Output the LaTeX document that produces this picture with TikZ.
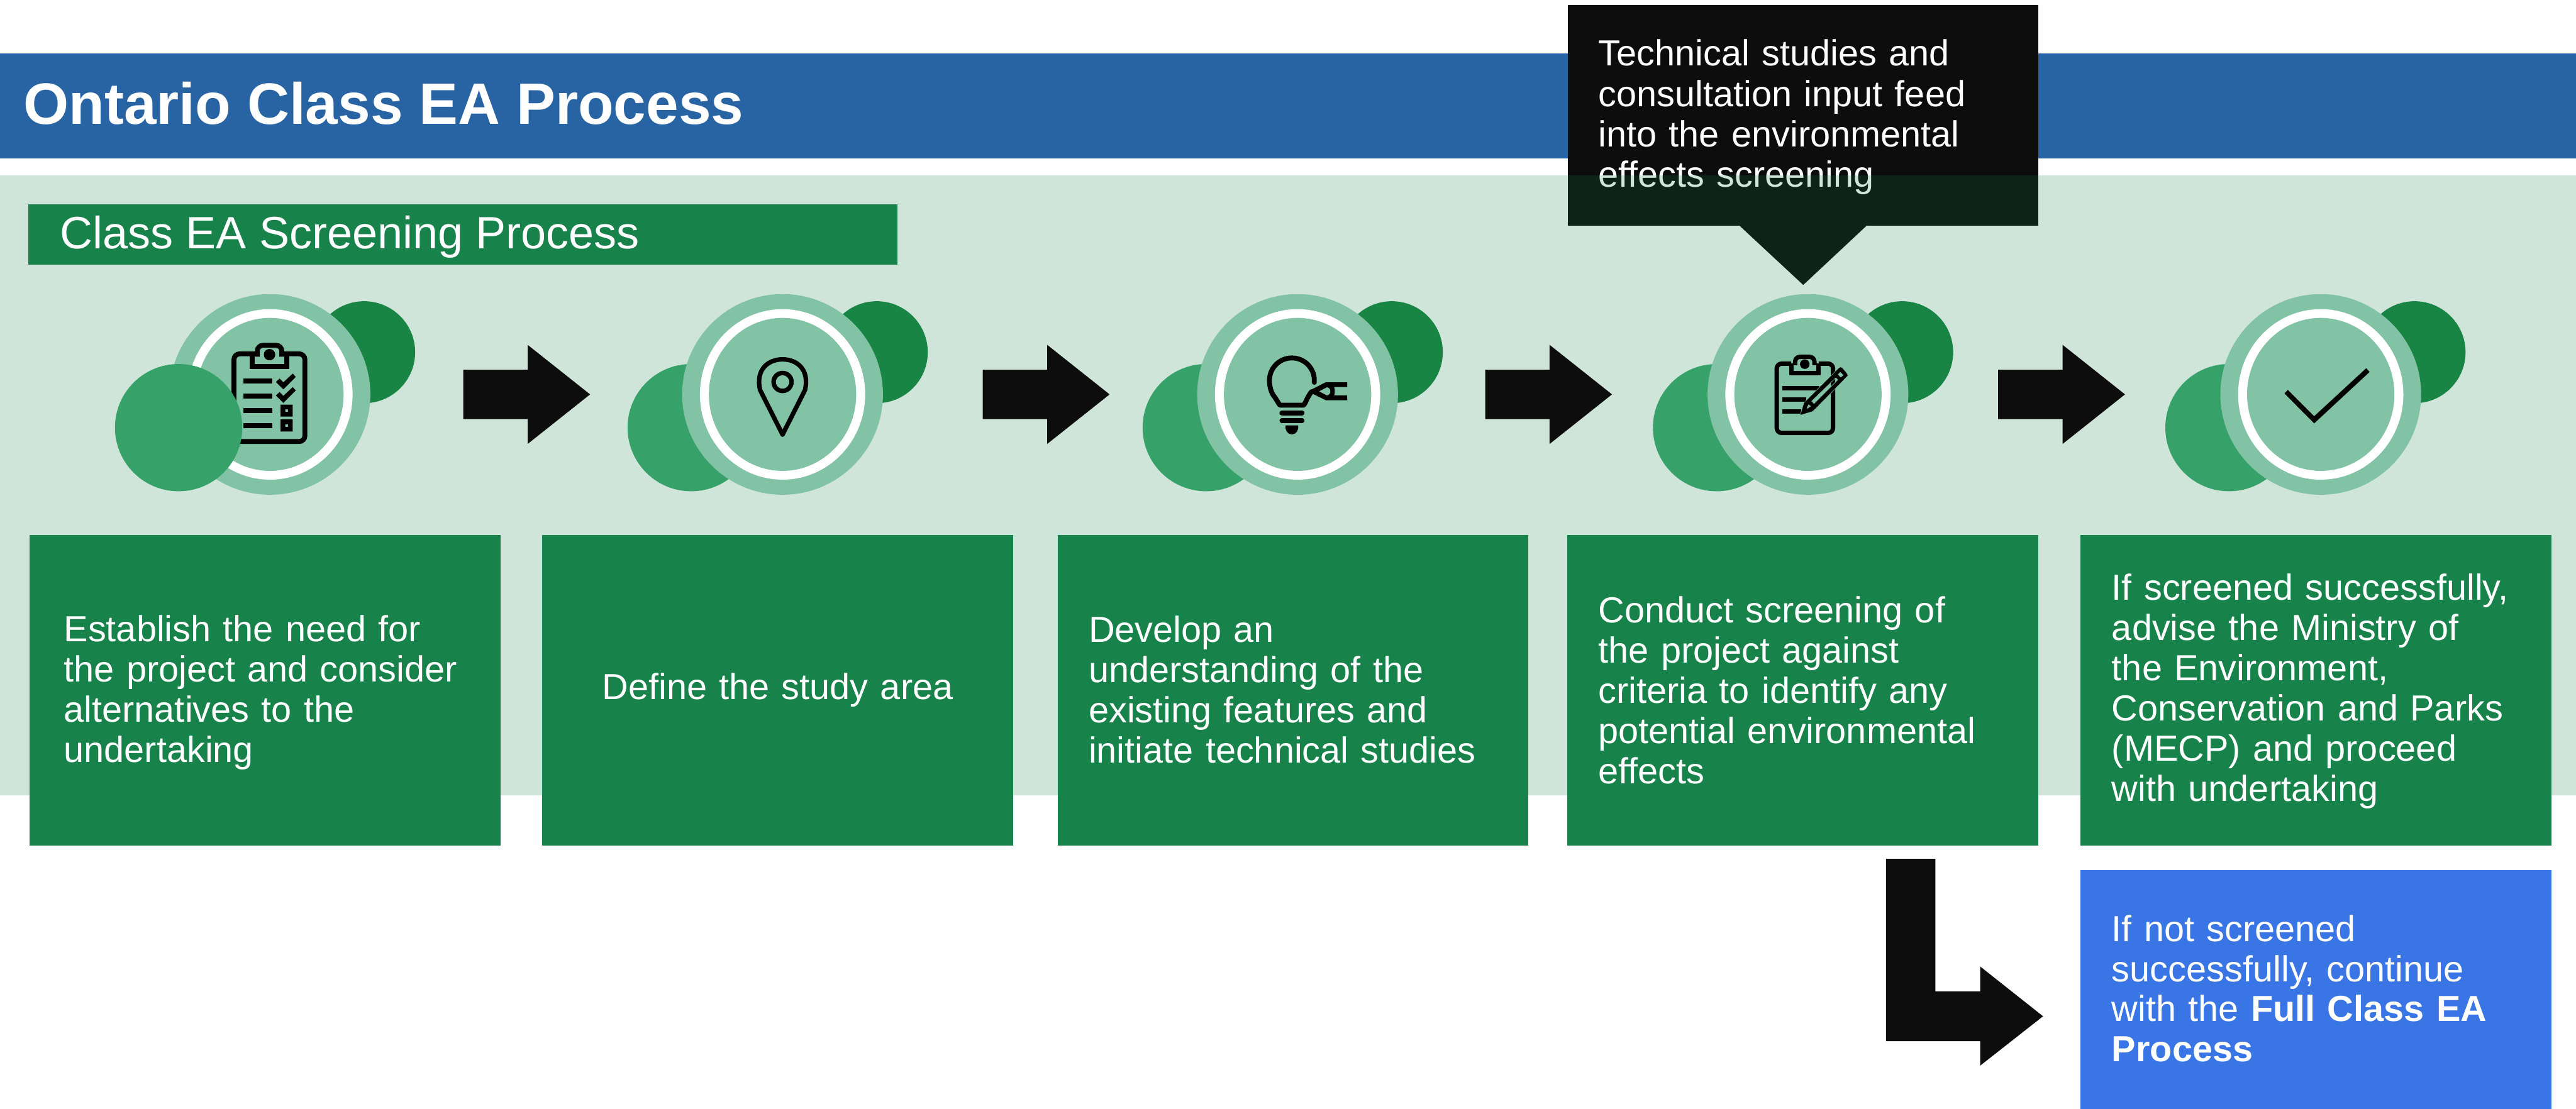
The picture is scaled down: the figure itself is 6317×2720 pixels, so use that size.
\documentclass[tikz,border=0pt]{standalone}
\usepackage{fontspec}
\usetikzlibrary{shapes.geometric}
\setmainfont{Liberation Sans}
\definecolor{bandblue}{HTML}{2864A3}
\definecolor{boxgreen}{HTML}{178249}
\definecolor{washgreen}{HTML}{137F47}
\definecolor{discdark}{HTML}{198545}
\definecolor{discmid}{HTML}{36A169}
\definecolor{discring}{HTML}{83C3A5}
\definecolor{boxblue}{HTML}{3975E5}
\definecolor{inkblack}{HTML}{0D0D0D}
\tikzset{
  blockshape/.style={rectangle,inner sep=0pt,outer sep=0pt,draw=none},
  bodytext/.style={blockshape,text=white,text width=10.02cm,align=left,font=\fontsize{25.3pt}{28.08pt}\selectfont},
  stepbox/.style={bodytext,fill=boxgreen,minimum width=11.54cm,minimum height=7.62cm},
  disc/.style={circle,inner sep=0pt,outer sep=0pt,draw=none},
  oval/.style={ellipse,inner sep=0pt,outer sep=0pt,draw=none},
  discD/.style={disc,fill=discdark,minimum size=2.5cm},
  discM/.style={disc,fill=discmid,minimum size=3.12cm},
  discR/.style={disc,fill=discring,minimum size=4.92cm},
  discW/.style={oval,fill=white,minimum width=4.05cm,minimum height=4.18cm},
  discI/.style={oval,fill=discring,minimum width=3.61cm,minimum height=3.75cm},
  iconline/.style={draw=black,line width=0.12cm},
  blockarrow/.pic={\fill[inkblack] (0,-60.5) -- (158,-60.5) -- (158,-121.5) -- (311,0) -- (158,121.5) -- (158,60.5) -- (0,60.5) -- cycle;}
}
\newcommand{\ringdiscs}[2]{%
  \node[discR] (#1r) at (#2,967.5) {};
  \node[discW] (#1w) at (#2,967.5) {};
  \node[discI] (#1i) at (#2,967.5) {};}
\begin{document}
\begin{tikzpicture}[x=0.01cm,y=-0.01cm]
\useasboundingbox (0,0) rectangle (6317,2720);
\fill[white] (0,0) rectangle (6317,2720);
% header band
\node[blockshape,fill=bandblue,minimum width=63.17cm,minimum height=2.57cm,anchor=north west] (band) at (0,131) {};
\node[anchor=base west,inner sep=0pt,text=white,font=\fontsize{40.7pt}{46pt}\selectfont\bfseries] (title) at (57,304.6) {Ontario Class EA Process};
% callout under the translucent wash
\node[blockshape,fill=inkblack,minimum width=11.54cm,minimum height=5.4cm,anchor=north west] (callout) at (3844,13) {};
\node[bodytext] (callouttext) at (4421,287) {Technical studies and\\consultation input feed\\into the environmental\\effects screening};
\fill[inkblack] (4265,553) -- (4422,699) -- (4578,553) -- cycle;
% wash
\node[blockshape,fill=washgreen,fill opacity=0.195,minimum width=63.17cm,minimum height=15.19cm,anchor=north west] (wash) at (0,431) {};
% subtitle
\node[blockshape,fill=boxgreen,minimum width=21.3cm,minimum height=1.48cm,anchor=north west] (subbox) at (70,501) {};
\node[anchor=base west,inner sep=0pt,text=white,font=\fontsize{31.6pt}{36pt}\selectfont] (subtitle) at (147,610.5) {Class EA Screening Process};
% step boxes
\node[stepbox] (s1) at (650,1693) {};
\node[bodytext] (s1text) at (658,1699) {Establish the need for\\the project and consider\\alternatives to the\\undertaking};
\node[stepbox,align=center] (s2) at (1907,1693) {Define the study area};
\node[stepbox] (s3) at (3171,1693) {};
\node[bodytext] (s3text) at (3171,1691) {Develop an\\understanding of the\\existing features and\\initiate technical studies};
\node[stepbox] (s4) at (4421,1693) {Conduct screening of\\the project against\\criteria to identify any\\potential environmental\\effects};
\node[stepbox] (s5) at (5679,1693) {};
\node[bodytext] (s5text) at (5680,1696) {If screened successfully,\\advise the Ministry of\\the Environment,\\Conservation and Parks\\(MECP) and proceed\\with undertaking};
\node[stepbox,fill=boxblue,minimum height=5.85cm,anchor=north] (s6) at (5679,2135) {};
\node[bodytext,font=\fontsize{25.3pt}{27.9pt}\selectfont] (s6text) at (5680,2425) {If not screened\\successfully, continue\\with the \textbf{Full Class EA}\\\textbf{Process}};
% block arrows
\pic (a1) at (1136,967.5) {blockarrow};
\pic (a2) at (2410,967.5) {blockarrow};
\pic (a3) at (3642,967.5) {blockarrow};
\pic (a4) at (4900,967.5) {blockarrow};
\fill[inkblack] (4625,2107) -- (4746,2107) -- (4746,2432) -- (4856,2432) -- (4856,2371) -- (5010,2493) -- (4856,2614) -- (4856,2554) -- (4625,2554) -- cycle;
% icon 1
\node[discD] (i1d) at (893,864) {};
\ringdiscs{i1}{662}
\draw[iconline,rounded corners=0.14cm] (631,868) -- (573.7,868) -- (573.7,1083) -- (747.7,1083) -- (747.7,868) -- (691,868);
\draw[iconline] (619,868) -- (619,899) -- (703,899) -- (703,868);
\draw[iconline,rounded corners=0.14cm] (631,875) -- (631,847) -- (691,847) -- (691,875);
\fill[black] (661,870) circle (14);
\foreach \yy in {929,965,1001.4,1037.5} \fill[black] (597.2,\yy) rectangle (667.3,\yy+12.2);
\foreach \dy in {0,33.2} \fill[black] (676.5,937+\dy) -- (685.6,928.6+\dy) -- (694.8,937.9+\dy) -- (717.8,916.4+\dy) -- (725.3,924.6+\dy) -- (694.8,955+\dy) -- cycle;
\fill[black,even odd rule] (688,992.5) rectangle (717.8,1022) (699.4,1004.3) rectangle (706.3,1010.4);
\fill[black,even odd rule] (688,1028.6) rectangle (717.8,1058.6) (699.4,1040.7) rectangle (706.3,1046.8);
\node[discM] (i1m) at (438,1049) {};
% icon 2
\node[discD] (i2d) at (2150,864) {};
\node[discM] (i2m) at (1695,1049) {};
\ringdiscs{i2}{1919}
\draw[draw=black,line width=0.11cm,line join=round] (1919,1066) -- (1864,957) .. controls (1852,905) and (1885,881.5) .. (1919,881.5) .. controls (1953,881.5) and (1986,905) .. (1974,957) -- cycle;
\draw[draw=black,line width=0.11cm] (1919,937) circle (22);
% icon 3
\node[discD] (i3d) at (3413,864) {};
\node[discM] (i3m) at (2958,1049) {};
\ringdiscs{i3}{3182}
\draw[iconline,line cap=round,line join=round] (3223,938) -- (3223,933) arc[start angle=0,end angle=-180,radius=55] .. controls (3113,950) and (3118,965) .. (3125,973) .. controls (3131,981) and (3135,990) .. (3139,994) -- (3197,994) .. controls (3201,990) and (3205,975) .. (3216,961);
\fill[black,even odd rule] (3213.6,956.7) -- (3251.1,937.7) -- (3303.6,937.7) -- (3303.6,949.3) -- (3271.4,949.3) .. controls (3274,955) and (3274,965) .. (3271.4,970) -- (3303.6,970) -- (3303.6,981.7) -- (3251.1,981.7) -- (3220.4,966.7) -- cycle
  (3234.6,960) -- (3253.6,950) .. controls (3259,950) and (3262.5,955) .. (3262.5,960) .. controls (3262.5,965) and (3259,970) .. (3253.6,970) -- cycle;
\draw[iconline,line cap=round] (3143.5,1012.7) -- (3193,1012.7);
\draw[iconline,line cap=round] (3143.5,1031.7) -- (3193,1031.7);
\fill[black] (3153,1043.3) -- (3183,1043.3) .. controls (3186,1055) and (3178,1065.7) .. (3168,1065.7) .. controls (3158,1065.7) and (3150,1055) .. (3153,1043.3) -- cycle;
% icon 4
\node[discD] (i4d) at (4664.5,864) {};
\node[discM] (i4m) at (4209.5,1049) {};
\ringdiscs{i4}{4433.5}
\draw[draw=black,line width=0.107cm,rounded corners=0.12cm] (4392.5,892) -- (4357,892) -- (4357,1062) -- (4495,1062) -- (4495,892) -- (4460,892);
\draw[draw=black,line width=0.107cm] (4392.5,892) -- (4392.5,916) -- (4460,916) -- (4460,892);
\draw[draw=black,line width=0.107cm,rounded corners=0.12cm] (4402,896) -- (4402,875.3) -- (4449.5,875.3) -- (4449.5,896);
\fill[black] (4425.7,893.3) circle (11.7);
\fill[black] (4370.3,946.7) rectangle (4461.7,957.3);
\fill[black] (4370.3,975.3) rectangle (4430,986);
\fill[black] (4370.3,1004) rectangle (4417.3,1015);
\filldraw[draw=discring,line width=0.01cm,fill=black,even odd rule,line join=round] (4414.3,1018.7) -- (4423.3,988.3) -- (4428.3,983.3) -- (4508.3,903.3) -- (4513.3,900) -- (4518,902) -- (4530,916.7) -- (4531.7,921.7) -- (4448.3,1006.7) -- (4443.3,1010) -- cycle
  (4501.7,926.7) -- (4506.7,931.7) -- (4448.3,990) -- (4442.7,984) -- cycle
  (4512.7,913.3) -- (4520,920) -- (4514.3,925.3) -- (4507.3,918.7) -- cycle
  (4435,992.7) -- (4440,996.7) -- (4431,1002) -- cycle;
% icon 5
\node[discD] (i5d) at (5921,864) {};
\node[discM] (i5m) at (5466,1049) {};
\ringdiscs{i5}{5691}
\fill[black] (5602,965.2) -- (5610.2,956.5) -- (5675,1021) -- (5802.6,903.2) -- (5810.7,912.5) -- (5675,1038.5) -- cycle;
\end{tikzpicture}
\end{document}
